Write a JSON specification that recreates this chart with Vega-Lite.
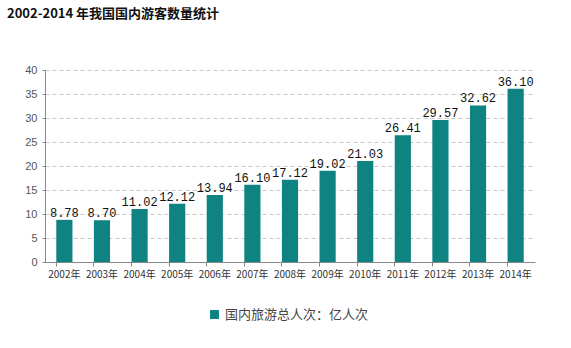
{
  "$schema": "https://vega.github.io/schema/vega-lite/v6.json",
  "width": 490,
  "height": 192,
  "autosize": {"type": "none"},
  "padding": {"left": 45, "top": 70, "right": 36, "bottom": 86},
  "background": "white",
  "title": {
    "text": "2002-2014 年我国国内游客数量统计",
    "anchor": "start",
    "frame": "group",
    "dx": -38,
    "offset": 43,
    "font": "Noto Sans CJK SC",
    "fontSize": 13,
    "fontWeight": "bold",
    "color": "#111111"
  },
  "data": {
    "values": [
      {"year": "2002年", "value": 8.78, "series": "国内旅游总人次：亿人次"},
      {"year": "2003年", "value": 8.70, "series": "国内旅游总人次：亿人次"},
      {"year": "2004年", "value": 11.02, "series": "国内旅游总人次：亿人次"},
      {"year": "2005年", "value": 12.12, "series": "国内旅游总人次：亿人次"},
      {"year": "2006年", "value": 13.94, "series": "国内旅游总人次：亿人次"},
      {"year": "2007年", "value": 16.10, "series": "国内旅游总人次：亿人次"},
      {"year": "2008年", "value": 17.12, "series": "国内旅游总人次：亿人次"},
      {"year": "2009年", "value": 19.02, "series": "国内旅游总人次：亿人次"},
      {"year": "2010年", "value": 21.03, "series": "国内旅游总人次：亿人次"},
      {"year": "2011年", "value": 26.41, "series": "国内旅游总人次：亿人次"},
      {"year": "2012年", "value": 29.57, "series": "国内旅游总人次：亿人次"},
      {"year": "2013年", "value": 32.62, "series": "国内旅游总人次：亿人次"},
      {"year": "2014年", "value": 36.10, "series": "国内旅游总人次：亿人次"}
    ]
  },
  "encoding": {
    "x": {
      "field": "year",
      "type": "nominal",
      "sort": null,
      "scale": {"paddingInner": 0.57, "paddingOuter": 0.3},
      "axis": {
        "title": null,
        "labelAngle": 0,
        "labelFont": "Noto Sans CJK SC",
        "labelFontSize": 10,
        "labelColor": "#333333",
        "labelPadding": 3,
        "bandPosition": 0,
        "ticks": true,
        "tickSize": 4,
        "tickColor": "#888888",
        "domainColor": "#888888",
        "grid": false
      }
    },
    "y": {
      "field": "value",
      "type": "quantitative",
      "scale": {"domain": [0, 40], "nice": false},
      "axis": {
        "title": null,
        "values": [0, 5, 10, 15, 20, 25, 30, 35, 40],
        "labelFont": "Liberation Sans",
        "labelFontSize": 11,
        "labelColor": "#555555",
        "labelPadding": 5,
        "tickSize": 3,
        "tickColor": "#888888",
        "domainColor": "#888888",
        "grid": true,
        "gridColor": "#c8c8c8",
        "gridDash": [4, 3]
      }
    }
  },
  "layer": [
    {
      "mark": {"type": "bar"},
      "encoding": {
        "color": {
          "field": "series",
          "type": "nominal",
          "scale": {"range": ["#0f8282"]},
          "legend": {
            "title": null,
            "orient": "none",
            "legendX": 163,
            "legendY": 238,
            "direction": "horizontal",
            "symbolType": "square",
            "symbolSize": 80,
            "symbolStrokeWidth": 0,
            "labelFont": "Noto Sans CJK SC",
            "labelFontSize": 13,
            "labelColor": "#444444"
          }
        }
      }
    },
    {
      "mark": {
        "type": "text",
        "dy": -7,
        "font": "Liberation Mono",
        "fontSize": 12,
        "color": "#111111"
      },
      "encoding": {
        "text": {"field": "value", "type": "quantitative", "format": ".2f"}
      }
    }
  ],
  "config": {
    "view": {"stroke": null}
  }
}
